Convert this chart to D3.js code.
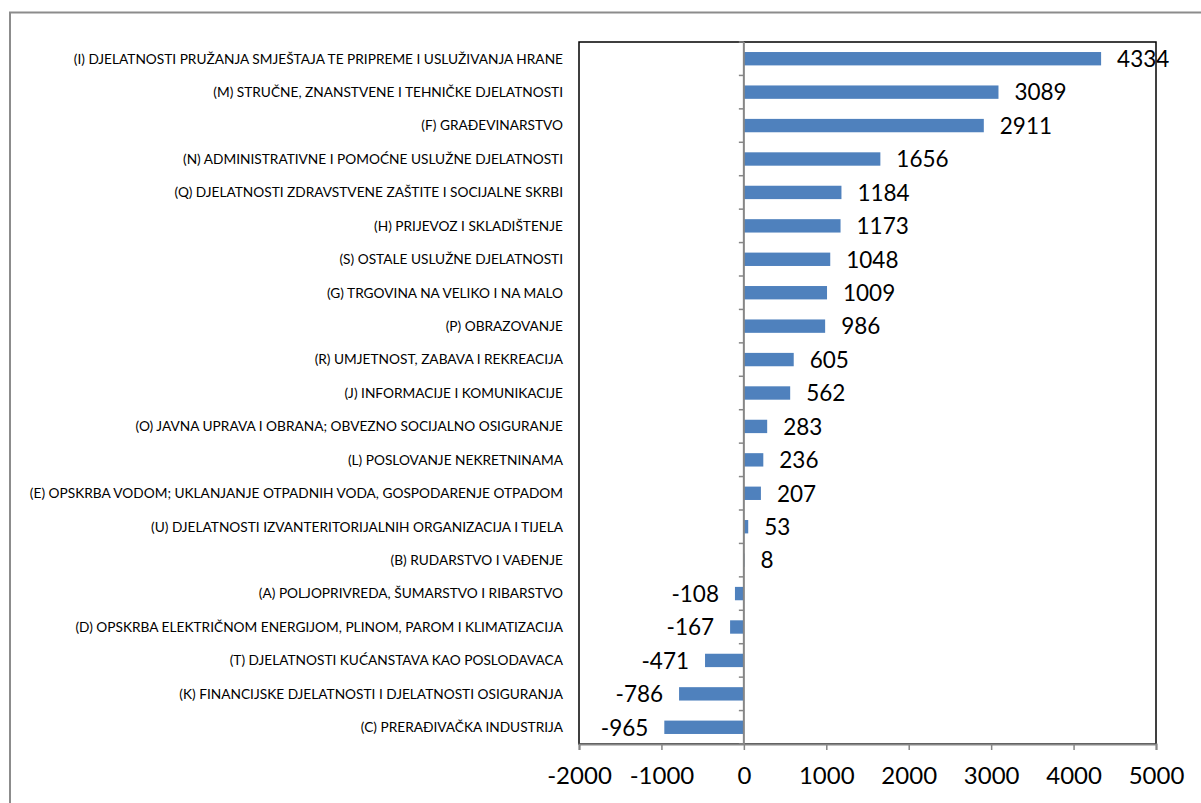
<!DOCTYPE html>
<html><head><meta charset="utf-8">
<script src="https://cdn.jsdelivr.net/npm/d3@7"></script>
<style>body{margin:0;background:#fff}svg{display:block}</style>
</head><body>
<script>
const categories = [
"(I) DJELATNOSTI PRUŽANJA SMJEŠTAJA TE PRIPREME I USLUŽIVANJA HRANE",
"(M) STRUČNE, ZNANSTVENE I TEHNIČKE DJELATNOSTI",
"(F) GRAĐEVINARSTVO",
"(N) ADMINISTRATIVNE I POMOĆNE USLUŽNE DJELATNOSTI",
"(Q) DJELATNOSTI ZDRAVSTVENE ZAŠTITE I SOCIJALNE SKRBI",
"(H) PRIJEVOZ I SKLADIŠTENJE",
"(S) OSTALE USLUŽNE DJELATNOSTI",
"(G) TRGOVINA NA VELIKO I NA MALO",
"(P) OBRAZOVANJE",
"(R) UMJETNOST, ZABAVA I REKREACIJA",
"(J) INFORMACIJE I KOMUNIKACIJE",
"(O) JAVNA UPRAVA I OBRANA; OBVEZNO SOCIJALNO OSIGURANJE",
"(L) POSLOVANJE NEKRETNINAMA",
"(E) OPSKRBA VODOM; UKLANJANJE OTPADNIH VODA, GOSPODARENJE OTPADOM",
"(U) DJELATNOSTI IZVANTERITORIJALNIH ORGANIZACIJA I TIJELA",
"(B) RUDARSTVO I VAĐENJE",
"(A) POLJOPRIVREDA, ŠUMARSTVO I RIBARSTVO",
"(D) OPSKRBA ELEKTRIČNOM ENERGIJOM, PLINOM, PAROM I KLIMATIZACIJA",
"(T) DJELATNOSTI KUĆANSTAVA KAO POSLODAVACA",
"(K) FINANCIJSKE DJELATNOSTI I DJELATNOSTI OSIGURANJA",
"(C) PRERAĐIVAČKA INDUSTRIJA"
];
const values = [4334,3089,2911,1656,1184,1173,1048,1009,986,605,562,283,236,207,53,8,-108,-167,-471,-786,-965];
const xTicks = [-2000,-1000,0,1000,2000,3000,4000,5000];

(function(){
const W = 1201, H = 803;
const svg = d3.select("body").append("svg").attr("width", W).attr("height", H);

// outer chart border
svg.append("rect").attr("x",10).attr("y",12.5).attr("width",1300).attr("height",900)
  .attr("fill","none").attr("stroke","#8c8c8c").attr("stroke-width",2);

const pL = 579, pR = 1156, pT = 42, pB = 744;
const x = d3.scaleLinear().domain([-2000,5000]).range([pL,pR]);
const y = d3.scaleBand().domain(categories).range([pT,pB]).paddingInner(0.6).paddingOuter(0.3);

// plot area border
svg.append("rect").attr("x",pL).attr("y",pT).attr("width",pR-pL).attr("height",pB-pT)
  .attr("fill","none").attr("stroke","#000").attr("stroke-width",1.5);

// bars
svg.append("g").selectAll("rect").data(values).join("rect")
  .attr("x",(d)=>x(Math.min(0,d)))
  .attr("y",(d,i)=>y(categories[i]))
  .attr("width",(d)=>Math.abs(x(d)-x(0)))
  .attr("height",y.bandwidth())
  .attr("fill","#4f81bd");

// zero axis with category ticks
const step = (pB-pT)/categories.length;
const zg = svg.append("g");
zg.append("line").attr("x1",x(0)).attr("x2",x(0)).attr("y1",pT).attr("y2",pB)
  .attr("stroke","#868686").attr("stroke-width",2);
zg.selectAll("line.t").data(d3.range(categories.length+1)).join("line").attr("class","t")
  .attr("x1",x(0)-5).attr("x2",x(0)).attr("y1",i=>pT+i*step).attr("y2",i=>pT+i*step)
  .attr("stroke","#868686").attr("stroke-width",1.5);

// x axis
const xa = svg.append("g").attr("transform",`translate(0,${pB})`)
  .call(d3.axisBottom(x).tickValues(xTicks).tickSize(6).tickPadding(17).tickFormat(d3.format("d")));
xa.select(".domain").attr("stroke","#868686").attr("stroke-width",2);
xa.selectAll(".tick line").attr("stroke","#868686").attr("stroke-width",1.5);
xa.selectAll(".tick text").attr("font-family","Lato, sans-serif").attr("font-size",24).attr("fill","#000")
  .text(d=>d<0?"-"+Math.abs(d):d);

// category labels
svg.append("g").selectAll("text").data(categories).join("text")
  .attr("x",pL-16).attr("y",d=>y(d)+y.bandwidth()/2).attr("dy","0.35em")
  .attr("text-anchor","end").attr("font-family","Lato, sans-serif").attr("font-size",13.7).attr("fill","#000")
  .text(d=>d);

// value labels
svg.append("g").selectAll("text").data(values).join("text")
  .attr("x",d=>d>=0? x(d)+16 : x(d)-16)
  .attr("y",(d,i)=>y(categories[i])+y.bandwidth()/2).attr("dy","0.37em")
  .attr("text-anchor",d=>d>=0?"start":"end")
  .attr("font-family","Lato, sans-serif").attr("font-size",22.5).attr("fill","#000")
  .text(d=>d<0?"-"+Math.abs(d):d);
})();
</script>
</body></html>
